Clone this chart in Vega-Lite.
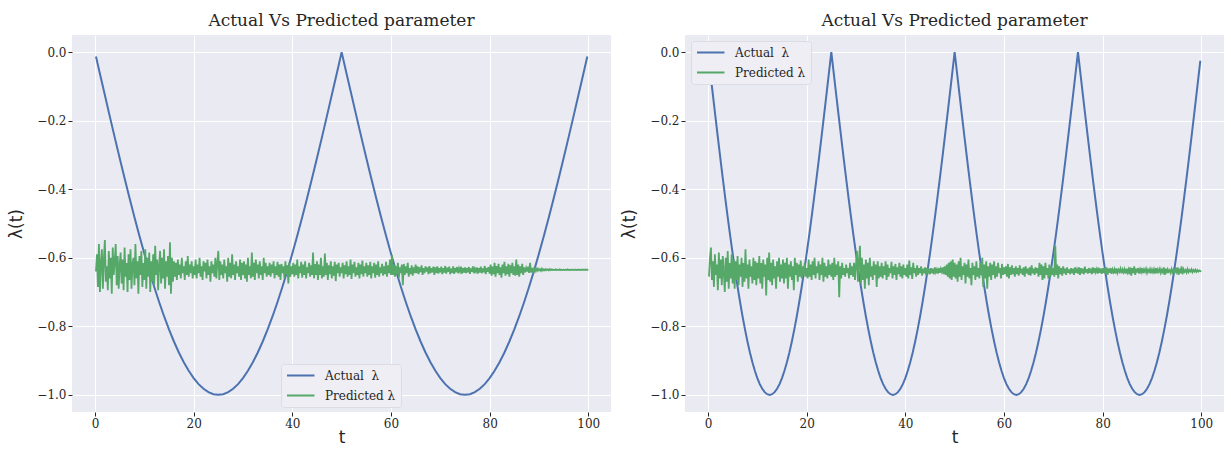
{
"$schema":"https://vega.github.io/schema/vega-lite/v6.json",
"background":"white",
"padding":{"left":7,"top":12,"right":0,"bottom":0},
"spacing":9,
"config":{
 "view":{"fill":"#EAEAF2","stroke":null},
 "axis":{"domain":false,"grid":true,"gridColor":"#ffffff","gridWidth":1,"tickColor":"#262626","tickSize":4,"tickWidth":1,"labelFont":"DejaVu Serif","labelFontSize":12,"labelColor":"#262626","labelPadding":2,"titleFont":"DejaVu Sans","titleFontSize":17,"titleFontWeight":"normal","titleColor":"#262626"},
 "title":{"font":"DejaVu Serif","fontSize":17,"fontWeight":"normal","color":"#262626","offset":5,"anchor":"middle"},
 "legend":{"symbolType":"M-1,0H4","symbolSize":121,"symbolStrokeWidth":2,"labelFont":"DejaVu Serif","labelFontSize":12,"labelColor":"#262626","fillColor":"#EEEEF4","strokeColor":"#DCDCE4","cornerRadius":3,"padding":5,"rowPadding":7,"labelOffset":26}
},
"resolve":{"scale":{"color":"independent"},"legend":{"color":"independent"}},
"datasets":{
"la":[{"t":0.2,"v":-0.0126},{"t":1,"v":-0.0628},{"t":2,"v":-0.1253},{"t":3,"v":-0.1874},{"t":4,"v":-0.2487},{"t":5,"v":-0.309},{"t":6,"v":-0.3681},{"t":7,"v":-0.4258},{"t":8,"v":-0.4818},{"t":9,"v":-0.5358},{"t":10,"v":-0.5878},{"t":11,"v":-0.6374},{"t":12,"v":-0.6845},{"t":13,"v":-0.729},{"t":14,"v":-0.7705},{"t":15,"v":-0.809},{"t":16,"v":-0.8443},{"t":17,"v":-0.8763},{"t":18,"v":-0.9048},{"t":19,"v":-0.9298},{"t":20,"v":-0.9511},{"t":21,"v":-0.9686},{"t":22,"v":-0.9823},{"t":23,"v":-0.9921},{"t":24,"v":-0.998},{"t":25,"v":-1},{"t":26,"v":-0.998},{"t":27,"v":-0.9921},{"t":28,"v":-0.9823},{"t":29,"v":-0.9686},{"t":30,"v":-0.9511},{"t":31,"v":-0.9298},{"t":32,"v":-0.9048},{"t":33,"v":-0.8763},{"t":34,"v":-0.8443},{"t":35,"v":-0.809},{"t":36,"v":-0.7705},{"t":37,"v":-0.729},{"t":38,"v":-0.6845},{"t":39,"v":-0.6374},{"t":40,"v":-0.5878},{"t":41,"v":-0.5358},{"t":42,"v":-0.4818},{"t":43,"v":-0.4258},{"t":44,"v":-0.3681},{"t":45,"v":-0.309},{"t":46,"v":-0.2487},{"t":47,"v":-0.1874},{"t":48,"v":-0.1253},{"t":49,"v":-0.0628},{"t":50,"v":0},{"t":51,"v":-0.0628},{"t":52,"v":-0.1253},{"t":53,"v":-0.1874},{"t":54,"v":-0.2487},{"t":55,"v":-0.309},{"t":56,"v":-0.3681},{"t":57,"v":-0.4258},{"t":58,"v":-0.4818},{"t":59,"v":-0.5358},{"t":60,"v":-0.5878},{"t":61,"v":-0.6374},{"t":62,"v":-0.6845},{"t":63,"v":-0.729},{"t":64,"v":-0.7705},{"t":65,"v":-0.809},{"t":66,"v":-0.8443},{"t":67,"v":-0.8763},{"t":68,"v":-0.9048},{"t":69,"v":-0.9298},{"t":70,"v":-0.9511},{"t":71,"v":-0.9686},{"t":72,"v":-0.9823},{"t":73,"v":-0.9921},{"t":74,"v":-0.998},{"t":75,"v":-1},{"t":76,"v":-0.998},{"t":77,"v":-0.9921},{"t":78,"v":-0.9823},{"t":79,"v":-0.9686},{"t":80,"v":-0.9511},{"t":81,"v":-0.9298},{"t":82,"v":-0.9048},{"t":83,"v":-0.8763},{"t":84,"v":-0.8443},{"t":85,"v":-0.809},{"t":86,"v":-0.7705},{"t":87,"v":-0.729},{"t":88,"v":-0.6845},{"t":89,"v":-0.6374},{"t":90,"v":-0.5878},{"t":91,"v":-0.5358},{"t":92,"v":-0.4818},{"t":93,"v":-0.4258},{"t":94,"v":-0.3681},{"t":95,"v":-0.309},{"t":96,"v":-0.2487},{"t":97,"v":-0.1874},{"t":98,"v":-0.1253},{"t":99,"v":-0.0628},{"t":99.8,"v":-0.0126}],
"ra":[{"t":0.2,"v":-0.0251},{"t":0.5,"v":-0.0628},{"t":1,"v":-0.1253},{"t":1.5,"v":-0.1874},{"t":2,"v":-0.2487},{"t":2.5,"v":-0.309},{"t":3,"v":-0.3681},{"t":3.5,"v":-0.4258},{"t":4,"v":-0.4818},{"t":4.5,"v":-0.5358},{"t":5,"v":-0.5878},{"t":5.5,"v":-0.6374},{"t":6,"v":-0.6845},{"t":6.5,"v":-0.729},{"t":7,"v":-0.7705},{"t":7.5,"v":-0.809},{"t":8,"v":-0.8443},{"t":8.5,"v":-0.8763},{"t":9,"v":-0.9048},{"t":9.5,"v":-0.9298},{"t":10,"v":-0.9511},{"t":10.5,"v":-0.9686},{"t":11,"v":-0.9823},{"t":11.5,"v":-0.9921},{"t":12,"v":-0.998},{"t":12.5,"v":-1},{"t":13,"v":-0.998},{"t":13.5,"v":-0.9921},{"t":14,"v":-0.9823},{"t":14.5,"v":-0.9686},{"t":15,"v":-0.9511},{"t":15.5,"v":-0.9298},{"t":16,"v":-0.9048},{"t":16.5,"v":-0.8763},{"t":17,"v":-0.8443},{"t":17.5,"v":-0.809},{"t":18,"v":-0.7705},{"t":18.5,"v":-0.729},{"t":19,"v":-0.6845},{"t":19.5,"v":-0.6374},{"t":20,"v":-0.5878},{"t":20.5,"v":-0.5358},{"t":21,"v":-0.4818},{"t":21.5,"v":-0.4258},{"t":22,"v":-0.3681},{"t":22.5,"v":-0.309},{"t":23,"v":-0.2487},{"t":23.5,"v":-0.1874},{"t":24,"v":-0.1253},{"t":24.5,"v":-0.0628},{"t":25,"v":0},
{"t":25.5,"v":-0.0628},{"t":26,"v":-0.1253},{"t":26.5,"v":-0.1874},{"t":27,"v":-0.2487},{"t":27.5,"v":-0.309},{"t":28,"v":-0.3681},{"t":28.5,"v":-0.4258},{"t":29,"v":-0.4818},{"t":29.5,"v":-0.5358},{"t":30,"v":-0.5878},{"t":30.5,"v":-0.6374},{"t":31,"v":-0.6845},{"t":31.5,"v":-0.729},{"t":32,"v":-0.7705},{"t":32.5,"v":-0.809},{"t":33,"v":-0.8443},{"t":33.5,"v":-0.8763},{"t":34,"v":-0.9048},{"t":34.5,"v":-0.9298},{"t":35,"v":-0.9511},{"t":35.5,"v":-0.9686},{"t":36,"v":-0.9823},{"t":36.5,"v":-0.9921},{"t":37,"v":-0.998},{"t":37.5,"v":-1},{"t":38,"v":-0.998},{"t":38.5,"v":-0.9921},{"t":39,"v":-0.9823},{"t":39.5,"v":-0.9686},{"t":40,"v":-0.9511},{"t":40.5,"v":-0.9298},{"t":41,"v":-0.9048},{"t":41.5,"v":-0.8763},{"t":42,"v":-0.8443},{"t":42.5,"v":-0.809},{"t":43,"v":-0.7705},{"t":43.5,"v":-0.729},{"t":44,"v":-0.6845},{"t":44.5,"v":-0.6374},{"t":45,"v":-0.5878},{"t":45.5,"v":-0.5358},{"t":46,"v":-0.4818},{"t":46.5,"v":-0.4258},{"t":47,"v":-0.3681},{"t":47.5,"v":-0.309},{"t":48,"v":-0.2487},{"t":48.5,"v":-0.1874},{"t":49,"v":-0.1253},{"t":49.5,"v":-0.0628},{"t":50,"v":0},
{"t":50.5,"v":-0.0628},{"t":51,"v":-0.1253},{"t":51.5,"v":-0.1874},{"t":52,"v":-0.2487},{"t":52.5,"v":-0.309},{"t":53,"v":-0.3681},{"t":53.5,"v":-0.4258},{"t":54,"v":-0.4818},{"t":54.5,"v":-0.5358},{"t":55,"v":-0.5878},{"t":55.5,"v":-0.6374},{"t":56,"v":-0.6845},{"t":56.5,"v":-0.729},{"t":57,"v":-0.7705},{"t":57.5,"v":-0.809},{"t":58,"v":-0.8443},{"t":58.5,"v":-0.8763},{"t":59,"v":-0.9048},{"t":59.5,"v":-0.9298},{"t":60,"v":-0.9511},{"t":60.5,"v":-0.9686},{"t":61,"v":-0.9823},{"t":61.5,"v":-0.9921},{"t":62,"v":-0.998},{"t":62.5,"v":-1},{"t":63,"v":-0.998},{"t":63.5,"v":-0.9921},{"t":64,"v":-0.9823},{"t":64.5,"v":-0.9686},{"t":65,"v":-0.9511},{"t":65.5,"v":-0.9298},{"t":66,"v":-0.9048},{"t":66.5,"v":-0.8763},{"t":67,"v":-0.8443},{"t":67.5,"v":-0.809},{"t":68,"v":-0.7705},{"t":68.5,"v":-0.729},{"t":69,"v":-0.6845},{"t":69.5,"v":-0.6374},{"t":70,"v":-0.5878},{"t":70.5,"v":-0.5358},{"t":71,"v":-0.4818},{"t":71.5,"v":-0.4258},{"t":72,"v":-0.3681},{"t":72.5,"v":-0.309},{"t":73,"v":-0.2487},{"t":73.5,"v":-0.1874},{"t":74,"v":-0.1253},{"t":74.5,"v":-0.0628},{"t":75,"v":0},
{"t":75.5,"v":-0.0628},{"t":76,"v":-0.1253},{"t":76.5,"v":-0.1874},{"t":77,"v":-0.2487},{"t":77.5,"v":-0.309},{"t":78,"v":-0.3681},{"t":78.5,"v":-0.4258},{"t":79,"v":-0.4818},{"t":79.5,"v":-0.5358},{"t":80,"v":-0.5878},{"t":80.5,"v":-0.6374},{"t":81,"v":-0.6845},{"t":81.5,"v":-0.729},{"t":82,"v":-0.7705},{"t":82.5,"v":-0.809},{"t":83,"v":-0.8443},{"t":83.5,"v":-0.8763},{"t":84,"v":-0.9048},{"t":84.5,"v":-0.9298},{"t":85,"v":-0.9511},{"t":85.5,"v":-0.9686},{"t":86,"v":-0.9823},{"t":86.5,"v":-0.9921},{"t":87,"v":-0.998},{"t":87.5,"v":-1},{"t":88,"v":-0.998},{"t":88.5,"v":-0.9921},{"t":89,"v":-0.9823},{"t":89.5,"v":-0.9686},{"t":90,"v":-0.9511},{"t":90.5,"v":-0.9298},{"t":91,"v":-0.9048},{"t":91.5,"v":-0.8763},{"t":92,"v":-0.8443},{"t":92.5,"v":-0.809},{"t":93,"v":-0.7705},{"t":93.5,"v":-0.729},{"t":94,"v":-0.6845},{"t":94.5,"v":-0.6374},{"t":95,"v":-0.5878},{"t":95.5,"v":-0.5358},{"t":96,"v":-0.4818},{"t":96.5,"v":-0.4258},{"t":97,"v":-0.3681},{"t":97.5,"v":-0.309},{"t":98,"v":-0.2487},{"t":98.5,"v":-0.1874},{"t":99,"v":-0.1253},{"t":99.5,"v":-0.0628},{"t":99.8,"v":-0.0251}],
"lp":[
{"t":0.2,"v":-0.640},{"t":0.4,"v":-0.590},{"t":0.6,"v":-0.685},{"t":0.8,"v":-0.560},{"t":1,"v":-0.700},{"t":1.2,"v":-0.615},{"t":1.4,"v":-0.575},{"t":1.6,"v":-0.690},{"t":1.8,"v":-0.605},{"t":2,"v":-0.548},{"t":2.2,"v":-0.670},{"t":2.4,"v":-0.625},{"t":2.6,"v":-0.695},{"t":2.8,"v":-0.580},{"t":3,"v":-0.660},{"t":3.2,"v":-0.600},{"t":3.4,"v":-0.705},{"t":3.6,"v":-0.570},{"t":3.8,"v":-0.650},{"t":4,"v":-0.610},{"t":4.2,"v":-0.560},{"t":4.4,"v":-0.680},{"t":4.6,"v":-0.595},{"t":4.8,"v":-0.690},{"t":5,"v":-0.620},
{"t":5.2,"v":-0.585},{"t":5.4,"v":-0.675},{"t":5.6,"v":-0.605},{"t":5.8,"v":-0.695},{"t":6,"v":-0.570},{"t":6.2,"v":-0.655},{"t":6.4,"v":-0.615},{"t":6.6,"v":-0.700},{"t":6.8,"v":-0.590},{"t":7,"v":-0.665},{"t":7.2,"v":-0.575},{"t":7.4,"v":-0.690},{"t":7.6,"v":-0.620},{"t":7.8,"v":-0.600},{"t":8,"v":-0.680},{"t":8.2,"v":-0.560},{"t":8.4,"v":-0.660},{"t":8.6,"v":-0.610},{"t":8.8,"v":-0.705},{"t":9,"v":-0.595},{"t":9.2,"v":-0.650},{"t":9.4,"v":-0.580},{"t":9.6,"v":-0.685},{"t":9.8,"v":-0.615},{"t":10,"v":-0.665},
{"t":10.2,"v":-0.575},{"t":10.4,"v":-0.690},{"t":10.6,"v":-0.600},{"t":10.8,"v":-0.655},{"t":11,"v":-0.585},{"t":11.2,"v":-0.700},{"t":11.4,"v":-0.610},{"t":11.6,"v":-0.670},{"t":11.8,"v":-0.590},{"t":12,"v":-0.680},{"t":12.2,"v":-0.565},{"t":12.4,"v":-0.650},{"t":12.6,"v":-0.605},{"t":12.8,"v":-0.695},{"t":13,"v":-0.620},{"t":13.2,"v":-0.580},{"t":13.4,"v":-0.675},{"t":13.6,"v":-0.600},{"t":13.8,"v":-0.660},{"t":14,"v":-0.575},{"t":14.2,"v":-0.690},{"t":14.4,"v":-0.610},{"t":14.6,"v":-0.655},{"t":14.8,"v":-0.595},{"t":15,"v":-0.680},
{"t":15.2,"v":-0.555},{"t":15.4,"v":-0.705},{"t":15.6,"v":-0.600},{"t":15.8,"v":-0.670},{"t":16,"v":-0.610},{"t":16.2,"v":-0.655},{"t":16.4,"v":-0.615},{"t":16.6,"v":-0.665},{"t":16.8,"v":-0.605},{"t":17,"v":-0.650},{"t":17.2,"v":-0.620},{"t":17.4,"v":-0.660},{"t":17.6,"v":-0.600},{"t":17.8,"v":-0.645},{"t":18,"v":-0.625},{"t":18.2,"v":-0.665},{"t":18.4,"v":-0.610},{"t":18.6,"v":-0.650},{"t":18.8,"v":-0.595},{"t":19,"v":-0.655},{"t":19.2,"v":-0.620},{"t":19.4,"v":-0.645},{"t":19.6,"v":-0.610},{"t":19.8,"v":-0.660},{"t":20,"v":-0.625},
{"t":20.2,"v":-0.650},{"t":20.4,"v":-0.605},{"t":20.6,"v":-0.660},{"t":20.8,"v":-0.620},{"t":21,"v":-0.645},{"t":21.2,"v":-0.600},{"t":21.4,"v":-0.655},{"t":21.6,"v":-0.625},{"t":21.8,"v":-0.665},{"t":22,"v":-0.610},{"t":22.2,"v":-0.640},{"t":22.4,"v":-0.615},{"t":22.6,"v":-0.660},{"t":22.8,"v":-0.605},{"t":23,"v":-0.650},{"t":23.2,"v":-0.625},{"t":23.4,"v":-0.670},{"t":23.6,"v":-0.610},{"t":23.8,"v":-0.645},{"t":24,"v":-0.620},{"t":24.2,"v":-0.655},{"t":24.4,"v":-0.600},{"t":24.6,"v":-0.660},{"t":24.8,"v":-0.615},{"t":25,"v":-0.580},
{"t":25.2,"v":-0.665},{"t":25.4,"v":-0.610},{"t":25.6,"v":-0.650},{"t":25.8,"v":-0.620},{"t":26,"v":-0.660},{"t":26.2,"v":-0.605},{"t":26.4,"v":-0.645},{"t":26.6,"v":-0.625},{"t":26.8,"v":-0.670},{"t":27,"v":-0.600},{"t":27.2,"v":-0.655},{"t":27.4,"v":-0.615},{"t":27.6,"v":-0.660},{"t":27.8,"v":-0.590},{"t":28,"v":-0.650},{"t":28.2,"v":-0.620},{"t":28.4,"v":-0.665},{"t":28.6,"v":-0.610},{"t":28.8,"v":-0.645},{"t":29,"v":-0.625},{"t":29.2,"v":-0.655},{"t":29.4,"v":-0.605},{"t":29.6,"v":-0.665},{"t":29.8,"v":-0.615},{"t":30,"v":-0.650},
{"t":30.2,"v":-0.610},{"t":30.4,"v":-0.660},{"t":30.6,"v":-0.620},{"t":30.8,"v":-0.670},{"t":31,"v":-0.600},{"t":31.2,"v":-0.650},{"t":31.4,"v":-0.625},{"t":31.6,"v":-0.660},{"t":31.8,"v":-0.585},{"t":32,"v":-0.655},{"t":32.2,"v":-0.615},{"t":32.4,"v":-0.665},{"t":32.6,"v":-0.605},{"t":32.8,"v":-0.645},{"t":33,"v":-0.620},{"t":33.2,"v":-0.660},{"t":33.4,"v":-0.610},{"t":33.6,"v":-0.650},{"t":33.8,"v":-0.625},{"t":34,"v":-0.665},{"t":34.2,"v":-0.600},{"t":34.4,"v":-0.645},{"t":34.6,"v":-0.615},{"t":34.8,"v":-0.655},{"t":35,"v":-0.625},
{"t":35.2,"v":-0.650},{"t":35.4,"v":-0.615},{"t":35.6,"v":-0.655},{"t":35.8,"v":-0.620},{"t":36,"v":-0.645},{"t":36.2,"v":-0.610},{"t":36.4,"v":-0.660},{"t":36.6,"v":-0.625},{"t":36.8,"v":-0.650},{"t":37,"v":-0.612},{"t":37.2,"v":-0.655},{"t":37.4,"v":-0.620},{"t":37.6,"v":-0.665},{"t":37.8,"v":-0.618},{"t":38,"v":-0.645},{"t":38.2,"v":-0.625},{"t":38.4,"v":-0.660},{"t":38.6,"v":-0.610},{"t":38.8,"v":-0.650},{"t":39,"v":-0.622},{"t":39.2,"v":-0.675},{"t":39.4,"v":-0.615},{"t":39.6,"v":-0.655},{"t":39.8,"v":-0.625},{"t":40,"v":-0.648},
{"t":40.2,"v":-0.615},{"t":40.4,"v":-0.655},{"t":40.6,"v":-0.620},{"t":40.8,"v":-0.650},{"t":41,"v":-0.605},{"t":41.2,"v":-0.660},{"t":41.4,"v":-0.625},{"t":41.6,"v":-0.645},{"t":41.8,"v":-0.612},{"t":42,"v":-0.658},{"t":42.2,"v":-0.620},{"t":42.4,"v":-0.650},{"t":42.6,"v":-0.610},{"t":42.8,"v":-0.660},{"t":43,"v":-0.628},{"t":43.2,"v":-0.645},{"t":43.4,"v":-0.615},{"t":43.6,"v":-0.655},{"t":43.8,"v":-0.622},{"t":44,"v":-0.650},{"t":44.2,"v":-0.585},{"t":44.4,"v":-0.660},{"t":44.6,"v":-0.618},{"t":44.8,"v":-0.650},{"t":45,"v":-0.610},
{"t":45.2,"v":-0.665},{"t":45.4,"v":-0.620},{"t":45.6,"v":-0.650},{"t":45.8,"v":-0.600},{"t":46,"v":-0.660},{"t":46.2,"v":-0.625},{"t":46.4,"v":-0.655},{"t":46.6,"v":-0.588},{"t":46.8,"v":-0.650},{"t":47,"v":-0.615},{"t":47.2,"v":-0.665},{"t":47.4,"v":-0.622},{"t":47.6,"v":-0.648},{"t":47.8,"v":-0.610},{"t":48,"v":-0.660},{"t":48.2,"v":-0.625},{"t":48.4,"v":-0.652},{"t":48.6,"v":-0.612},{"t":48.8,"v":-0.668},{"t":49,"v":-0.620},{"t":49.2,"v":-0.645},{"t":49.4,"v":-0.615},{"t":49.6,"v":-0.655},{"t":49.8,"v":-0.628},{"t":50,"v":-0.645},
{"t":50.2,"v":-0.615},{"t":50.4,"v":-0.660},{"t":50.6,"v":-0.622},{"t":50.8,"v":-0.648},{"t":51,"v":-0.610},{"t":51.2,"v":-0.655},{"t":51.4,"v":-0.625},{"t":51.6,"v":-0.650},{"t":51.8,"v":-0.605},{"t":52,"v":-0.662},{"t":52.2,"v":-0.620},{"t":52.4,"v":-0.645},{"t":52.6,"v":-0.612},{"t":52.8,"v":-0.655},{"t":53,"v":-0.628},{"t":53.2,"v":-0.650},{"t":53.4,"v":-0.615},{"t":53.6,"v":-0.660},{"t":53.8,"v":-0.620},{"t":54,"v":-0.648},{"t":54.2,"v":-0.608},{"t":54.4,"v":-0.655},{"t":54.6,"v":-0.625},{"t":54.8,"v":-0.645},{"t":55,"v":-0.615},
{"t":55.2,"v":-0.655},{"t":55.4,"v":-0.622},{"t":55.6,"v":-0.650},{"t":55.8,"v":-0.612},{"t":56,"v":-0.660},{"t":56.2,"v":-0.625},{"t":56.4,"v":-0.645},{"t":56.6,"v":-0.615},{"t":56.8,"v":-0.658},{"t":57,"v":-0.620},{"t":57.2,"v":-0.650},{"t":57.4,"v":-0.610},{"t":57.6,"v":-0.655},{"t":57.8,"v":-0.628},{"t":58,"v":-0.645},{"t":58.2,"v":-0.618},{"t":58.4,"v":-0.652},{"t":58.6,"v":-0.625},{"t":58.8,"v":-0.648},{"t":59,"v":-0.612},{"t":59.2,"v":-0.655},{"t":59.4,"v":-0.622},{"t":59.6,"v":-0.645},{"t":59.8,"v":-0.605},{"t":60,"v":-0.650},
{"t":60.2,"v":-0.592},{"t":60.4,"v":-0.650},{"t":60.6,"v":-0.620},{"t":60.8,"v":-0.655},{"t":61,"v":-0.625},{"t":61.2,"v":-0.648},{"t":61.4,"v":-0.615},{"t":61.6,"v":-0.658},{"t":61.8,"v":-0.628},{"t":62,"v":-0.645},{"t":62.2,"v":-0.620},{"t":62.4,"v":-0.680},{"t":62.6,"v":-0.618},{"t":62.8,"v":-0.650},{"t":63,"v":-0.625},{"t":63.2,"v":-0.645},{"t":63.4,"v":-0.615},{"t":63.6,"v":-0.655},{"t":63.8,"v":-0.630},{"t":64,"v":-0.648},{"t":64.2,"v":-0.622},{"t":64.4,"v":-0.652},{"t":64.6,"v":-0.628},{"t":64.8,"v":-0.645},{"t":65,"v":-0.620},
{"t":65.2,"v":-0.645},{"t":65.4,"v":-0.625},{"t":65.6,"v":-0.648},{"t":65.8,"v":-0.628},{"t":66,"v":-0.642},{"t":66.2,"v":-0.622},{"t":66.4,"v":-0.650},{"t":66.6,"v":-0.630},{"t":66.8,"v":-0.645},{"t":67,"v":-0.625},{"t":67.2,"v":-0.640},{"t":67.4,"v":-0.628},{"t":67.6,"v":-0.648},{"t":67.8,"v":-0.624},{"t":68,"v":-0.645},{"t":68.2,"v":-0.630},{"t":68.4,"v":-0.642},{"t":68.6,"v":-0.626},{"t":68.8,"v":-0.650},{"t":69,"v":-0.628},{"t":69.2,"v":-0.644},{"t":69.4,"v":-0.625},{"t":69.6,"v":-0.646},{"t":69.8,"v":-0.630},{"t":70,"v":-0.642},
{"t":70.2,"v":-0.626},{"t":70.4,"v":-0.648},{"t":70.6,"v":-0.630},{"t":70.8,"v":-0.643},{"t":71,"v":-0.624},{"t":71.2,"v":-0.646},{"t":71.4,"v":-0.629},{"t":71.6,"v":-0.641},{"t":71.8,"v":-0.626},{"t":72,"v":-0.648},{"t":72.2,"v":-0.632},{"t":72.4,"v":-0.644},{"t":72.6,"v":-0.625},{"t":72.8,"v":-0.647},{"t":73,"v":-0.630},{"t":73.2,"v":-0.642},{"t":73.4,"v":-0.627},{"t":73.6,"v":-0.645},{"t":73.8,"v":-0.631},{"t":74,"v":-0.640},{"t":74.2,"v":-0.626},{"t":74.4,"v":-0.646},{"t":74.6,"v":-0.630},{"t":74.8,"v":-0.643},{"t":75,"v":-0.628},
{"t":75.2,"v":-0.645},{"t":75.4,"v":-0.630},{"t":75.6,"v":-0.642},{"t":75.8,"v":-0.627},{"t":76,"v":-0.647},{"t":76.2,"v":-0.631},{"t":76.4,"v":-0.641},{"t":76.6,"v":-0.625},{"t":76.8,"v":-0.645},{"t":77,"v":-0.632},{"t":77.2,"v":-0.640},{"t":77.4,"v":-0.628},{"t":77.6,"v":-0.646},{"t":77.8,"v":-0.630},{"t":78,"v":-0.643},{"t":78.2,"v":-0.626},{"t":78.4,"v":-0.645},{"t":78.6,"v":-0.631},{"t":78.8,"v":-0.642},{"t":79,"v":-0.624},{"t":79.2,"v":-0.648},{"t":79.4,"v":-0.630},{"t":79.6,"v":-0.641},{"t":79.8,"v":-0.627},{"t":80,"v":-0.646},
{"t":80.2,"v":-0.620},{"t":80.4,"v":-0.652},{"t":80.6,"v":-0.626},{"t":80.8,"v":-0.648},{"t":81,"v":-0.615},{"t":81.2,"v":-0.655},{"t":81.4,"v":-0.624},{"t":81.6,"v":-0.645},{"t":81.8,"v":-0.618},{"t":82,"v":-0.650},{"t":82.2,"v":-0.628},{"t":82.4,"v":-0.658},{"t":82.6,"v":-0.620},{"t":82.8,"v":-0.645},{"t":83,"v":-0.612},{"t":83.2,"v":-0.652},{"t":83.4,"v":-0.625},{"t":83.6,"v":-0.648},{"t":83.8,"v":-0.618},{"t":84,"v":-0.655},{"t":84.2,"v":-0.622},{"t":84.4,"v":-0.645},{"t":84.6,"v":-0.615},{"t":84.8,"v":-0.650},{"t":85,"v":-0.625},
{"t":85.2,"v":-0.652},{"t":85.4,"v":-0.605},{"t":85.6,"v":-0.650},{"t":85.8,"v":-0.620},{"t":86,"v":-0.655},{"t":86.2,"v":-0.625},{"t":86.4,"v":-0.645},{"t":86.6,"v":-0.618},{"t":86.8,"v":-0.650},{"t":87,"v":-0.628},{"t":87.2,"v":-0.642},{"t":87.4,"v":-0.630},{"t":87.6,"v":-0.640},{"t":87.8,"v":-0.626},{"t":88,"v":-0.644},{"t":88.2,"v":-0.615},{"t":88.4,"v":-0.643},{"t":88.6,"v":-0.630},{"t":88.8,"v":-0.640},{"t":89,"v":-0.632},{"t":89.2,"v":-0.639},{"t":89.4,"v":-0.631},{"t":89.6,"v":-0.638},{"t":89.8,"v":-0.632},{"t":90,"v":-0.637},
{"t":90.2,"v":-0.633},{"t":90.4,"v":-0.638},{"t":90.6,"v":-0.632},{"t":90.8,"v":-0.637},{"t":91,"v":-0.634},{"t":91.2,"v":-0.637},{"t":91.4,"v":-0.633},{"t":91.6,"v":-0.636},{"t":91.8,"v":-0.634},{"t":92,"v":-0.637},{"t":92.2,"v":-0.633},{"t":92.4,"v":-0.636},{"t":92.6,"v":-0.634},{"t":92.8,"v":-0.636},{"t":93,"v":-0.635},{"t":93.2,"v":-0.636},{"t":93.4,"v":-0.634},{"t":93.6,"v":-0.636},{"t":93.8,"v":-0.635},{"t":94,"v":-0.636},{"t":94.2,"v":-0.634},{"t":94.4,"v":-0.636},{"t":94.6,"v":-0.635},{"t":94.8,"v":-0.636},{"t":95,"v":-0.635},
{"t":95.2,"v":-0.636},{"t":95.4,"v":-0.635},{"t":95.6,"v":-0.636},{"t":95.8,"v":-0.634},{"t":96,"v":-0.636},{"t":96.2,"v":-0.635},{"t":96.4,"v":-0.636},{"t":96.6,"v":-0.635},{"t":96.8,"v":-0.635},{"t":97,"v":-0.636},{"t":97.2,"v":-0.635},{"t":97.4,"v":-0.635},{"t":97.6,"v":-0.636},{"t":97.8,"v":-0.635},{"t":98,"v":-0.635},{"t":98.2,"v":-0.635},{"t":98.4,"v":-0.636},{"t":98.6,"v":-0.635},{"t":98.8,"v":-0.635},{"t":99,"v":-0.635},{"t":99.2,"v":-0.635},{"t":99.4,"v":-0.635},{"t":99.6,"v":-0.635},{"t":99.8,"v":-0.635},{"t":100,"v":-0.635}],
"rp":[
{"t":0.2,"v":-0.655},{"t":0.4,"v":-0.600},{"t":0.6,"v":-0.570},{"t":0.8,"v":-0.665},{"t":1,"v":-0.610},{"t":1.2,"v":-0.685},{"t":1.4,"v":-0.590},{"t":1.6,"v":-0.650},{"t":1.8,"v":-0.620},{"t":2,"v":-0.695},{"t":2.2,"v":-0.585},{"t":2.4,"v":-0.660},{"t":2.6,"v":-0.605},{"t":2.8,"v":-0.680},{"t":3,"v":-0.595},{"t":3.2,"v":-0.640},{"t":3.4,"v":-0.700},{"t":3.6,"v":-0.600},{"t":3.8,"v":-0.670},{"t":4,"v":-0.580},{"t":4.2,"v":-0.690},{"t":4.4,"v":-0.615},{"t":4.6,"v":-0.660},{"t":4.8,"v":-0.590},{"t":5,"v":-0.675},
{"t":5.2,"v":-0.605},{"t":5.4,"v":-0.690},{"t":5.6,"v":-0.610},{"t":5.8,"v":-0.665},{"t":6,"v":-0.595},{"t":6.2,"v":-0.680},{"t":6.4,"v":-0.620},{"t":6.6,"v":-0.655},{"t":6.8,"v":-0.600},{"t":7,"v":-0.685},{"t":7.2,"v":-0.615},{"t":7.4,"v":-0.670},{"t":7.6,"v":-0.575},{"t":7.8,"v":-0.660},{"t":8,"v":-0.620},{"t":8.2,"v":-0.690},{"t":8.4,"v":-0.605},{"t":8.6,"v":-0.655},{"t":8.8,"v":-0.625},{"t":9,"v":-0.675},{"t":9.2,"v":-0.600},{"t":9.4,"v":-0.665},{"t":9.6,"v":-0.610},{"t":9.8,"v":-0.680},{"t":10,"v":-0.615},
{"t":10.2,"v":-0.660},{"t":10.4,"v":-0.595},{"t":10.6,"v":-0.675},{"t":10.8,"v":-0.615},{"t":11,"v":-0.690},{"t":11.2,"v":-0.605},{"t":11.4,"v":-0.655},{"t":11.6,"v":-0.620},{"t":11.8,"v":-0.710},{"t":12,"v":-0.600},{"t":12.2,"v":-0.665},{"t":12.4,"v":-0.585},{"t":12.6,"v":-0.670},{"t":12.8,"v":-0.615},{"t":13,"v":-0.680},{"t":13.2,"v":-0.605},{"t":13.4,"v":-0.660},{"t":13.6,"v":-0.625},{"t":13.8,"v":-0.690},{"t":14,"v":-0.610},{"t":14.2,"v":-0.655},{"t":14.4,"v":-0.600},{"t":14.6,"v":-0.670},{"t":14.8,"v":-0.620},{"t":15,"v":-0.660},
{"t":15.2,"v":-0.605},{"t":15.4,"v":-0.675},{"t":15.6,"v":-0.615},{"t":15.8,"v":-0.660},{"t":16,"v":-0.600},{"t":16.2,"v":-0.690},{"t":16.4,"v":-0.620},{"t":16.6,"v":-0.655},{"t":16.8,"v":-0.610},{"t":17,"v":-0.665},{"t":17.2,"v":-0.625},{"t":17.4,"v":-0.695},{"t":17.6,"v":-0.600},{"t":17.8,"v":-0.650},{"t":18,"v":-0.615},{"t":18.2,"v":-0.670},{"t":18.4,"v":-0.620},{"t":18.6,"v":-0.655},{"t":18.8,"v":-0.608},{"t":19,"v":-0.660},{"t":19.2,"v":-0.625},{"t":19.4,"v":-0.650},{"t":19.6,"v":-0.615},{"t":19.8,"v":-0.655},{"t":20,"v":-0.630},
{"t":20.2,"v":-0.660},{"t":20.4,"v":-0.605},{"t":20.6,"v":-0.655},{"t":20.8,"v":-0.620},{"t":21,"v":-0.665},{"t":21.2,"v":-0.610},{"t":21.4,"v":-0.650},{"t":21.6,"v":-0.600},{"t":21.8,"v":-0.660},{"t":22,"v":-0.625},{"t":22.2,"v":-0.645},{"t":22.4,"v":-0.610},{"t":22.6,"v":-0.665},{"t":22.8,"v":-0.620},{"t":23,"v":-0.650},{"t":23.2,"v":-0.600},{"t":23.4,"v":-0.670},{"t":23.6,"v":-0.615},{"t":23.8,"v":-0.655},{"t":24,"v":-0.625},{"t":24.2,"v":-0.660},{"t":24.4,"v":-0.605},{"t":24.6,"v":-0.650},{"t":24.8,"v":-0.620},{"t":25,"v":-0.655},
{"t":25.2,"v":-0.615},{"t":25.4,"v":-0.665},{"t":25.6,"v":-0.600},{"t":25.8,"v":-0.655},{"t":26,"v":-0.620},{"t":26.2,"v":-0.650},{"t":26.4,"v":-0.610},{"t":26.6,"v":-0.715},{"t":26.8,"v":-0.625},{"t":27,"v":-0.660},{"t":27.2,"v":-0.615},{"t":27.4,"v":-0.650},{"t":27.6,"v":-0.630},{"t":27.8,"v":-0.655},{"t":28,"v":-0.620},{"t":28.2,"v":-0.645},{"t":28.4,"v":-0.630},{"t":28.6,"v":-0.660},{"t":28.8,"v":-0.615},{"t":29,"v":-0.650},{"t":29.2,"v":-0.625},{"t":29.4,"v":-0.655},{"t":29.6,"v":-0.615},{"t":29.8,"v":-0.665},{"t":30,"v":-0.620},
{"t":30.2,"v":-0.580},{"t":30.4,"v":-0.670},{"t":30.6,"v":-0.610},{"t":30.8,"v":-0.565},{"t":31,"v":-0.675},{"t":31.2,"v":-0.600},{"t":31.4,"v":-0.665},{"t":31.6,"v":-0.620},{"t":31.8,"v":-0.690},{"t":32,"v":-0.605},{"t":32.2,"v":-0.660},{"t":32.4,"v":-0.615},{"t":32.6,"v":-0.680},{"t":32.8,"v":-0.600},{"t":33,"v":-0.655},{"t":33.2,"v":-0.625},{"t":33.4,"v":-0.665},{"t":33.6,"v":-0.610},{"t":33.8,"v":-0.650},{"t":34,"v":-0.620},{"t":34.2,"v":-0.685},{"t":34.4,"v":-0.610},{"t":34.6,"v":-0.660},{"t":34.8,"v":-0.625},{"t":35,"v":-0.655},
{"t":35.2,"v":-0.615},{"t":35.4,"v":-0.660},{"t":35.6,"v":-0.625},{"t":35.8,"v":-0.650},{"t":36,"v":-0.610},{"t":36.2,"v":-0.665},{"t":36.4,"v":-0.620},{"t":36.6,"v":-0.655},{"t":36.8,"v":-0.630},{"t":37,"v":-0.645},{"t":37.2,"v":-0.612},{"t":37.4,"v":-0.660},{"t":37.6,"v":-0.625},{"t":37.8,"v":-0.650},{"t":38,"v":-0.618},{"t":38.2,"v":-0.665},{"t":38.4,"v":-0.628},{"t":38.6,"v":-0.648},{"t":38.8,"v":-0.615},{"t":39,"v":-0.655},{"t":39.2,"v":-0.625},{"t":39.4,"v":-0.660},{"t":39.6,"v":-0.620},{"t":39.8,"v":-0.650},{"t":40,"v":-0.630},
{"t":40.2,"v":-0.655},{"t":40.4,"v":-0.620},{"t":40.6,"v":-0.660},{"t":40.8,"v":-0.608},{"t":41,"v":-0.650},{"t":41.2,"v":-0.628},{"t":41.4,"v":-0.662},{"t":41.6,"v":-0.615},{"t":41.8,"v":-0.645},{"t":42,"v":-0.630},{"t":42.2,"v":-0.655},{"t":42.4,"v":-0.622},{"t":42.6,"v":-0.650},{"t":42.8,"v":-0.630},{"t":43,"v":-0.645},{"t":43.2,"v":-0.625},{"t":43.4,"v":-0.652},{"t":43.6,"v":-0.632},{"t":43.8,"v":-0.645},{"t":44,"v":-0.628},{"t":44.2,"v":-0.650},{"t":44.4,"v":-0.630},{"t":44.6,"v":-0.642},{"t":44.8,"v":-0.632},{"t":45,"v":-0.648},
{"t":45.2,"v":-0.630},{"t":45.4,"v":-0.645},{"t":45.6,"v":-0.632},{"t":45.8,"v":-0.648},{"t":46,"v":-0.628},{"t":46.2,"v":-0.642},{"t":46.4,"v":-0.634},{"t":46.6,"v":-0.646},{"t":46.8,"v":-0.630},{"t":47,"v":-0.644},{"t":47.2,"v":-0.632},{"t":47.4,"v":-0.641},{"t":47.6,"v":-0.628},{"t":47.8,"v":-0.648},{"t":48,"v":-0.625},{"t":48.2,"v":-0.650},{"t":48.4,"v":-0.620},{"t":48.6,"v":-0.655},{"t":48.8,"v":-0.615},{"t":49,"v":-0.660},{"t":49.2,"v":-0.610},{"t":49.4,"v":-0.665},{"t":49.6,"v":-0.605},{"t":49.8,"v":-0.655},{"t":50,"v":-0.615},
{"t":50.2,"v":-0.660},{"t":50.4,"v":-0.620},{"t":50.6,"v":-0.670},{"t":50.8,"v":-0.610},{"t":51,"v":-0.655},{"t":51.2,"v":-0.600},{"t":51.4,"v":-0.665},{"t":51.6,"v":-0.625},{"t":51.8,"v":-0.650},{"t":52,"v":-0.615},{"t":52.2,"v":-0.675},{"t":52.4,"v":-0.620},{"t":52.6,"v":-0.655},{"t":52.8,"v":-0.605},{"t":53,"v":-0.660},{"t":53.2,"v":-0.630},{"t":53.4,"v":-0.680},{"t":53.6,"v":-0.615},{"t":53.8,"v":-0.650},{"t":54,"v":-0.625},{"t":54.2,"v":-0.665},{"t":54.4,"v":-0.610},{"t":54.6,"v":-0.655},{"t":54.8,"v":-0.630},{"t":55,"v":-0.660},
{"t":55.2,"v":-0.615},{"t":55.4,"v":-0.650},{"t":55.6,"v":-0.600},{"t":55.8,"v":-0.685},{"t":56,"v":-0.620},{"t":56.2,"v":-0.660},{"t":56.4,"v":-0.610},{"t":56.6,"v":-0.690},{"t":56.8,"v":-0.625},{"t":57,"v":-0.655},{"t":57.2,"v":-0.615},{"t":57.4,"v":-0.665},{"t":57.6,"v":-0.620},{"t":57.8,"v":-0.650},{"t":58,"v":-0.610},{"t":58.2,"v":-0.660},{"t":58.4,"v":-0.625},{"t":58.6,"v":-0.655},{"t":58.8,"v":-0.615},{"t":59,"v":-0.645},{"t":59.2,"v":-0.630},{"t":59.4,"v":-0.660},{"t":59.6,"v":-0.618},{"t":59.8,"v":-0.650},{"t":60,"v":-0.628},
{"t":60.2,"v":-0.648},{"t":60.4,"v":-0.625},{"t":60.6,"v":-0.655},{"t":60.8,"v":-0.618},{"t":61,"v":-0.660},{"t":61.2,"v":-0.628},{"t":61.4,"v":-0.650},{"t":61.6,"v":-0.622},{"t":61.8,"v":-0.648},{"t":62,"v":-0.630},{"t":62.2,"v":-0.655},{"t":62.4,"v":-0.625},{"t":62.6,"v":-0.648},{"t":62.8,"v":-0.630},{"t":63,"v":-0.652},{"t":63.2,"v":-0.622},{"t":63.4,"v":-0.645},{"t":63.6,"v":-0.632},{"t":63.8,"v":-0.650},{"t":64,"v":-0.628},{"t":64.2,"v":-0.655},{"t":64.4,"v":-0.625},{"t":64.6,"v":-0.645},{"t":64.8,"v":-0.632},{"t":65,"v":-0.650},
{"t":65.2,"v":-0.628},{"t":65.4,"v":-0.652},{"t":65.6,"v":-0.622},{"t":65.8,"v":-0.645},{"t":66,"v":-0.632},{"t":66.2,"v":-0.650},{"t":66.4,"v":-0.628},{"t":66.6,"v":-0.645},{"t":66.8,"v":-0.630},{"t":67,"v":-0.655},{"t":67.2,"v":-0.615},{"t":67.4,"v":-0.650},{"t":67.6,"v":-0.620},{"t":67.8,"v":-0.665},{"t":68,"v":-0.625},{"t":68.2,"v":-0.660},{"t":68.4,"v":-0.615},{"t":68.6,"v":-0.650},{"t":68.8,"v":-0.630},{"t":69,"v":-0.660},{"t":69.2,"v":-0.620},{"t":69.4,"v":-0.655},{"t":69.6,"v":-0.625},{"t":69.8,"v":-0.650},{"t":70,"v":-0.630},
{"t":70.2,"v":-0.655},{"t":70.4,"v":-0.565},{"t":70.6,"v":-0.650},{"t":70.8,"v":-0.620},{"t":71,"v":-0.660},{"t":71.2,"v":-0.625},{"t":71.4,"v":-0.648},{"t":71.6,"v":-0.630},{"t":71.8,"v":-0.652},{"t":72,"v":-0.625},{"t":72.2,"v":-0.645},{"t":72.4,"v":-0.632},{"t":72.6,"v":-0.650},{"t":72.8,"v":-0.628},{"t":73,"v":-0.644},{"t":73.2,"v":-0.634},{"t":73.4,"v":-0.648},{"t":73.6,"v":-0.630},{"t":73.8,"v":-0.645},{"t":74,"v":-0.632},{"t":74.2,"v":-0.650},{"t":74.4,"v":-0.628},{"t":74.6,"v":-0.644},{"t":74.8,"v":-0.634},{"t":75,"v":-0.646},
{"t":75.2,"v":-0.628},{"t":75.4,"v":-0.650},{"t":75.6,"v":-0.630},{"t":75.8,"v":-0.645},{"t":76,"v":-0.632},{"t":76.2,"v":-0.648},{"t":76.4,"v":-0.626},{"t":76.6,"v":-0.643},{"t":76.8,"v":-0.633},{"t":77,"v":-0.646},{"t":77.2,"v":-0.630},{"t":77.4,"v":-0.644},{"t":77.6,"v":-0.632},{"t":77.8,"v":-0.648},{"t":78,"v":-0.628},{"t":78.2,"v":-0.645},{"t":78.4,"v":-0.630},{"t":78.6,"v":-0.642},{"t":78.8,"v":-0.633},{"t":79,"v":-0.646},{"t":79.2,"v":-0.629},{"t":79.4,"v":-0.644},{"t":79.6,"v":-0.632},{"t":79.8,"v":-0.647},{"t":80,"v":-0.630},
{"t":80.2,"v":-0.645},{"t":80.4,"v":-0.630},{"t":80.6,"v":-0.648},{"t":80.8,"v":-0.628},{"t":81,"v":-0.650},{"t":81.2,"v":-0.632},{"t":81.4,"v":-0.644},{"t":81.6,"v":-0.630},{"t":81.8,"v":-0.647},{"t":82,"v":-0.634},{"t":82.2,"v":-0.642},{"t":82.4,"v":-0.633},{"t":82.6,"v":-0.646},{"t":82.8,"v":-0.631},{"t":83,"v":-0.644},{"t":83.2,"v":-0.635},{"t":83.4,"v":-0.641},{"t":83.6,"v":-0.632},{"t":83.8,"v":-0.645},{"t":84,"v":-0.634},{"t":84.2,"v":-0.642},{"t":84.4,"v":-0.633},{"t":84.6,"v":-0.646},{"t":84.8,"v":-0.632},{"t":85,"v":-0.643},
{"t":85.2,"v":-0.634},{"t":85.4,"v":-0.648},{"t":85.6,"v":-0.628},{"t":85.8,"v":-0.652},{"t":86,"v":-0.630},{"t":86.2,"v":-0.645},{"t":86.4,"v":-0.625},{"t":86.6,"v":-0.650},{"t":86.8,"v":-0.632},{"t":87,"v":-0.643},{"t":87.2,"v":-0.630},{"t":87.4,"v":-0.646},{"t":87.6,"v":-0.633},{"t":87.8,"v":-0.642},{"t":88,"v":-0.630},{"t":88.2,"v":-0.645},{"t":88.4,"v":-0.634},{"t":88.6,"v":-0.641},{"t":88.8,"v":-0.632},{"t":89,"v":-0.644},{"t":89.2,"v":-0.635},{"t":89.4,"v":-0.641},{"t":89.6,"v":-0.633},{"t":89.8,"v":-0.645},{"t":90,"v":-0.634},
{"t":90.2,"v":-0.642},{"t":90.4,"v":-0.633},{"t":90.6,"v":-0.646},{"t":90.8,"v":-0.630},{"t":91,"v":-0.645},{"t":91.2,"v":-0.634},{"t":91.4,"v":-0.641},{"t":91.6,"v":-0.632},{"t":91.8,"v":-0.644},{"t":92,"v":-0.635},{"t":92.2,"v":-0.642},{"t":92.4,"v":-0.628},{"t":92.6,"v":-0.650},{"t":92.8,"v":-0.632},{"t":93,"v":-0.645},{"t":93.2,"v":-0.634},{"t":93.4,"v":-0.641},{"t":93.6,"v":-0.636},{"t":93.8,"v":-0.644},{"t":94,"v":-0.633},{"t":94.2,"v":-0.642},{"t":94.4,"v":-0.635},{"t":94.6,"v":-0.645},{"t":94.8,"v":-0.632},{"t":95,"v":-0.641},
{"t":95.2,"v":-0.628},{"t":95.4,"v":-0.650},{"t":95.6,"v":-0.632},{"t":95.8,"v":-0.645},{"t":96,"v":-0.625},{"t":96.2,"v":-0.648},{"t":96.4,"v":-0.634},{"t":96.6,"v":-0.641},{"t":96.8,"v":-0.636},{"t":97,"v":-0.643},{"t":97.2,"v":-0.633},{"t":97.4,"v":-0.642},{"t":97.6,"v":-0.636},{"t":97.8,"v":-0.640},{"t":98,"v":-0.634},{"t":98.2,"v":-0.642},{"t":98.4,"v":-0.636},{"t":98.6,"v":-0.640},{"t":98.8,"v":-0.635},{"t":99,"v":-0.641},{"t":99.2,"v":-0.636},{"t":99.4,"v":-0.640},{"t":99.6,"v":-0.637},{"t":99.8,"v":-0.639},{"t":100,"v":-0.638}]
},
"hconcat":[
{
 "width":539,"height":377,
 "title":"Actual Vs Predicted parameter",
 "encoding":{
  "x":{"field":"t","type":"quantitative","scale":{"domain":[-4.66,104.6],"nice":false,"zero":false},"axis":{"values":[0,20,40,60,80,100],"format":"d","title":"t","titlePadding":0}},
  "y":{"field":"v","type":"quantitative","scale":{"domain":[-1.05,0.05],"nice":false,"zero":false},"axis":{"values":[-1,-0.8,-0.6,-0.4,-0.2,0],"format":".1f","title":"λ(t)","titlePadding":11}}
 },
 "layer":[
  {"data":{"name":"la"},"mark":{"type":"line","strokeWidth":2},"encoding":{"color":{"datum":"Actual\u00a0\u00a0λ","type":"nominal","scale":{"domain":["Actual\u00a0\u00a0λ","Predicted λ"],"range":["#4C72B0","#55A868"]},"legend":{"title":null,"orient":"none","legendX":209,"legendY":329}}}},
  {"data":{"name":"lp"},"mark":{"type":"line","strokeWidth":1.8},"encoding":{"color":{"datum":"Predicted λ","type":"nominal"}}}
 ]
},
{
 "width":539,"height":377,
 "title":"Actual Vs Predicted parameter",
 "encoding":{
  "x":{"field":"t","type":"quantitative","scale":{"domain":[-4.66,104.6],"nice":false,"zero":false},"axis":{"values":[0,20,40,60,80,100],"format":"d","title":"t","titlePadding":0}},
  "y":{"field":"v","type":"quantitative","scale":{"domain":[-1.05,0.05],"nice":false,"zero":false},"axis":{"values":[-1,-0.8,-0.6,-0.4,-0.2,0],"format":".1f","title":"λ(t)","titlePadding":11}}
 },
 "layer":[
  {"data":{"name":"ra"},"mark":{"type":"line","strokeWidth":2},"encoding":{"color":{"datum":"Actual\u00a0\u00a0λ","type":"nominal","scale":{"domain":["Actual\u00a0\u00a0λ","Predicted λ"],"range":["#4C72B0","#55A868"]},"legend":{"title":null,"orient":"none","legendX":6,"legendY":6}}}},
  {"data":{"name":"rp"},"mark":{"type":"line","strokeWidth":1.8},"encoding":{"color":{"datum":"Predicted λ","type":"nominal"}}}
 ]
}
]
}
